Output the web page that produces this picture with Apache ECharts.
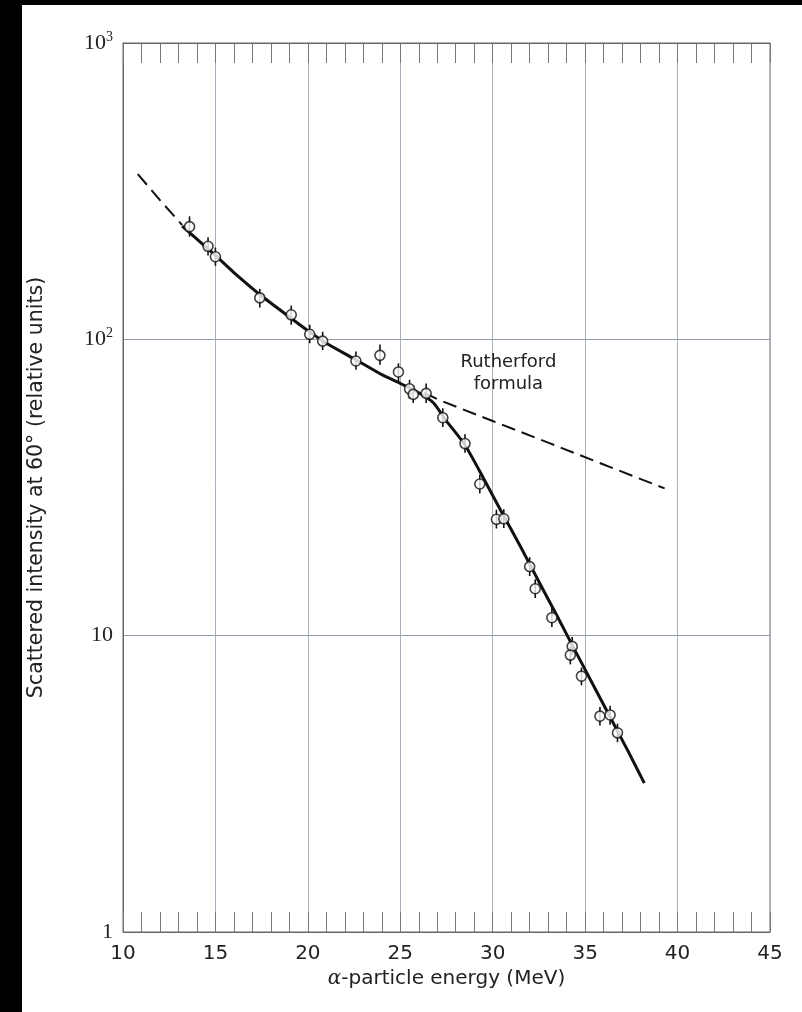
<!DOCTYPE html>
<html>
<head>
<meta charset="utf-8">
<script src="https://cdn.jsdelivr.net/npm/echarts/dist/echarts.min.js"></script>
<style>
html,body{margin:0;padding:0;background:#fff;}
#chart{width:802px;height:1012px;}
</style>
</head>
<body>
<div id="chart"></div>
<script>
// ---- data ----
const energyTicks = [10, 15, 20, 25, 30, 35, 40, 45];
const intensityTicks = [1, 10, 100, 1000];

// measured points (MeV, relative intensity) with error-bar ends
const pointEnergy    = [13.6, 14.6, 15.0, 17.4, 19.1, 20.1, 20.8, 22.6, 23.9, 24.9, 25.5, 25.7, 26.4, 27.3, 28.5, 29.3, 30.2, 30.6, 32.0, 32.3, 33.2, 34.3, 34.2, 34.8, 35.8, 36.35, 36.75];
const pointIntensity = [240, 206, 190, 138, 121, 104, 98.6, 84.5, 88.3, 77.6, 68.1, 65.2, 65.7, 54.4, 44.5, 32.5, 24.7, 24.8, 17.1, 14.4, 11.5, 9.2, 8.6, 7.3, 5.35, 5.4, 4.7];
const errLow         = [222, 192, 177, 128, 112, 97, 92, 79, 82, 72, 63, 61, 61, 50.6, 41.4, 30.2, 23.0, 23.1, 15.9, 13.4, 10.7, 8.6, 8.0, 6.8, 4.98, 5.0, 4.37];
const errHigh        = [260, 221, 204, 148, 130, 112, 106, 91, 96, 83, 73, 70, 71, 58.5, 47.8, 34.9, 26.6, 26.7, 18.4, 15.5, 12.4, 9.9, 9.2, 7.8, 5.75, 5.8, 5.05];

// solid curve (fit through data)
const fitEnergy    = [13.2, 14, 15, 16, 17.5, 19, 20, 21, 22.5, 24, 25, 26, 26.8, 27.5, 28.5, 29.5, 30.5, 31.5, 32.5, 33.5, 34.5, 35.5, 36.5, 37.3, 38.2];
const fitIntensity = [241, 218, 192, 168, 140, 119, 107, 97, 86, 76, 71, 66, 61, 53, 44, 34, 26, 20, 15.2, 11.6, 8.8, 6.7, 5.1, 4.1, 3.18];

// Rutherford formula (dashed)
const rutherfordLowEnergy     = [10.8, 12.0, 13.2];
const rutherfordLowIntensity  = [361, 295, 243];
const rutherfordHighEnergy    = [26.3, 27.1, 30, 33, 36, 39.3];
const rutherfordHighIntensity = [66, 62.4, 53, 44.8, 37.8, 31.4];

const rutherfordLabel = 'Rutherford\nformula';
const xTitle = '{i|\u03b1}-particle energy (MeV)';
const yTitle = 'Scattered intensity at 60\u00b0 (relative units)';

// ---- build ----
const zip = (a, b) => a.map((v, i) => [v, b[i]]);
const pts = zip(pointEnergy, pointIntensity);
const errs = pointEnergy.map((e, i) => [e, errLow[i], errHigh[i]]);

const sans = 'DejaVu Sans';
const serif = 'Liberation Serif';
const gridCol = '#a7b1bc';

const chart = echarts.init(document.getElementById('chart'), null, {renderer: 'canvas'});

const yLabel = v => {
  const e = Math.round(Math.log10(v));
  if (e === 0) return '{b|1}';
  if (e === 1) return '{b|10}';
  return '{b|10}{s|' + e + '}';
};

const xBase = {
  type: 'value', min: energyTicks[0], max: energyTicks[energyTicks.length - 1], interval: 5,
  axisLine: {show: true, lineStyle: {color: '#666', width: 1}},
  axisTick: {show: true, inside: true, length: 20, lineStyle: {color: '#777', width: 1}},
  minorTick: {show: true, splitNumber: 5, length: 20, lineStyle: {color: '#777', width: 1}},
  minorSplitLine: {show: false}
};

chart.setOption({
  backgroundColor: '#fff',
  animation: false,
  grid: {left: 123, right: 32, top: 43, bottom: 80, show: true, borderColor: '#666', borderWidth: 1, containLabel: false, outerBoundsMode: 'none'},
  graphic: [
    {type: 'rect', shape: {x: 0, y: 0, width: 22, height: 1012}, style: {fill: '#000'}, z: 100},
    {type: 'rect', shape: {x: 0, y: 0, width: 802, height: 5}, style: {fill: '#000'}, z: 100}
  ],
  xAxis: [
    Object.assign({}, xBase, {
      position: 'bottom',
      splitLine: {show: true, lineStyle: {color: gridCol, width: 1}},
      axisLabel: {show: true, margin: 12, fontFamily: sans, fontSize: 20, color: '#222'},
      name: xTitle, nameLocation: 'middle', nameGap: 37,
      nameTextStyle: {fontFamily: sans, fontSize: 20, color: '#222',
        rich: {i: {fontFamily: 'DejaVu Serif', fontStyle: 'italic', fontSize: 20, color: '#222'}}}
    }),
    Object.assign({}, xBase, {
      position: 'top',
      splitLine: {show: false},
      axisLabel: {show: false}
    })
  ],
  yAxis: {
    type: 'log', logBase: 10, min: intensityTicks[0], max: intensityTicks[intensityTicks.length - 1],
    axisLine: {show: true, lineStyle: {color: '#666', width: 1}},
    axisTick: {show: false},
    splitLine: {show: true, lineStyle: {color: '#8e9aa8', width: 1}},
    axisLabel: {
      margin: 10, formatter: yLabel, color: '#222',
      rich: {
        b: {fontFamily: serif, fontSize: 22, color: '#222', lineHeight: 26},
        s: {fontFamily: serif, fontSize: 14, color: '#222', lineHeight: 26, verticalAlign: 'top'}
      }
    },
    name: yTitle, nameLocation: 'middle', nameGap: 76,
    nameTextStyle: {fontFamily: sans, fontSize: 20.5, color: '#222'}
  },
  series: [
    {
      type: 'line', data: zip(fitEnergy, fitIntensity), showSymbol: false, smooth: 0.2,
      lineStyle: {color: '#111', width: 3}, z: 3, silent: true
    },
    {
      type: 'line', data: zip(rutherfordLowEnergy, rutherfordLowIntensity), showSymbol: false,
      lineStyle: {color: '#111', width: 2, type: [14, 7]}, z: 3, silent: true
    },
    {
      type: 'line', data: zip(rutherfordHighEnergy, rutherfordHighIntensity), showSymbol: false,
      lineStyle: {color: '#111', width: 2, type: [14, 7]}, z: 3, silent: true,
      markPoint: {
        symbol: 'circle', symbolSize: 0,
        label: {show: true, position: 'inside', formatter: rutherfordLabel, fontFamily: sans, fontSize: 18, lineHeight: 22, color: '#222', align: 'center'},
        data: [{coord: [30.85, 77]}]
      }
    },
    {
      type: 'custom', data: errs, z: 4, silent: true,
      renderItem: function (params, api) {
        const top = api.coord([api.value(0), api.value(2)]);
        const bot = api.coord([api.value(0), api.value(1)]);
        return {type: 'line', shape: {x1: top[0], y1: top[1], x2: bot[0], y2: bot[1]}, style: {stroke: '#111', lineWidth: 1.6}};
      }
    },
    {
      type: 'scatter', data: pts, symbol: 'circle', symbolSize: 10, z: 5, silent: true,
      itemStyle: {color: '#fff', borderColor: '#111', borderWidth: 1.6}
    }
  ]
});
</script>
</body>
</html>
